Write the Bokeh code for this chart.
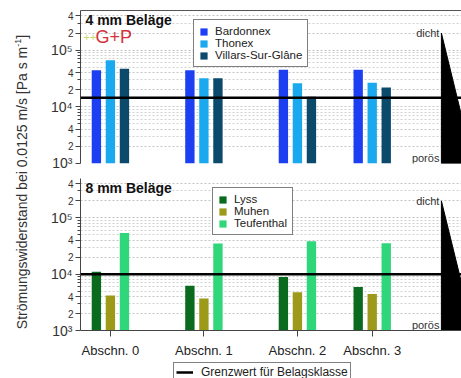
from bokeh.plotting import figure
from bokeh.models import (ColumnDataSource, FixedTicker, LinearAxis, LogAxis, Span, Label,
                          Legend, LegendItem, Div, Range1d)
from bokeh.layouts import row, column
from bokeh.transform import dodge
from bokeh.embed import file_html
from bokeh.resources import INLINE

# ---------------- data ----------------
sections = ["Abschn. 0", "Abschn. 1", "Abschn. 2", "Abschn. 3"]
section_pos = [0, 1, 2, 2.8]

names_4mm = ["Bardonnex", "Thonex", "Villars-Sur-Glâne"]
bardonnex = [4.4e4, 4.4e4, 4.5e4, 4.5e4]
thonex = [6.6e4, 3.2e4, 2.6e4, 2.65e4]
villars = [4.7e4, 3.2e4, 1.5e4, 2.2e4]

names_8mm = ["Lyss", "Muhen", "Teufenthal"]
lyss = [1.1e4, 6.2e3, 8.9e3, 5.9e3]
muhen = [4.2e3, 3.7e3, 4.8e3, 4.45e3]
teufenthal = [5.4e4, 3.5e4, 3.85e4, 3.55e4]

limit_4mm = 1.45e4
limit_8mm = 1.0e4
limit_label = "Grenzwert für Belagsklasse"

titles = ["4 mm Beläge", "8 mm Beläge"]
y_label = 'Strömungswiderstand bei 0.0125 m/s [Pa s m<sup style="font-size:9px">-1</sup>]'

decade_ticks = [1e3, 1e4, 1e5]
decade_labels = ["10³", "10⁴", "10⁵"]
mid_ticks = [2e3, 4e3, 2e4, 4e4, 2e5, 4e5]
mid_labels = ["2", "4", "2", "4", "2", "4"]

colors_4mm = ["#1c3ff2", "#1aa8ee", "#0c4a6c"]
colors_8mm = ["#0a6a1e", "#9c9a18", "#2fd67a"]

# ---------------- layout constants ----------------
FONT = "Liberation Sans"
X_START, X_END = -0.32, 3.755
Y_START, Y_END = 1e3, 5e5
BAR_W = 0.1
OFFS = [-0.15, 0.0, 0.15]
WEDGE_X, WEDGE_X2, WEDGE_TOP = 3.54, 3.88, 2.0e5
TITLE_Y = 3.4e5
minor_ticks = [m * d for d in [1e3, 1e4, 1e5] for m in (3, 5, 6, 7, 8, 9) if m * d < Y_END]
AX = "#444444"


def make_panel(height, top, bottom, names, values, colors, limit, title,
               legend_loc, show_x):
    p = figure(width=425, height=height, y_axis_type="log",
               x_range=Range1d(X_START, X_END), y_range=Range1d(Y_START, Y_END),
               output_backend="svg", toolbar_location=None,
               min_border_left=44, min_border_right=0,
               min_border_top=top, min_border_bottom=bottom)
    p.outline_line_color = None
    p.background_fill_color = "white"
    p.border_fill_color = "white"
    p.xgrid.visible = False

    # inner axis: all ticks, small "2"/"4" labels
    ya = p.yaxis[0]
    ya.ticker = FixedTicker(ticks=decade_ticks + mid_ticks, minor_ticks=minor_ticks)
    ov = {v: "" for v in decade_ticks}
    ov.update({v: l for v, l in zip(mid_ticks, mid_labels)})
    ya.major_label_overrides = ov
    ya.major_label_text_font = FONT
    ya.major_label_text_font_size = "10px"
    ya.major_label_text_color = "#333333"
    ya.major_label_standoff = 2
    ya.major_tick_out = 5
    ya.major_tick_in = 0
    ya.minor_tick_out = 3
    ya.minor_tick_in = 0
    ya.axis_line_color = AX
    ya.major_tick_line_color = AX
    ya.minor_tick_line_color = AX

    # outer axis: decade labels only
    outer = LogAxis(ticker=FixedTicker(ticks=decade_ticks, minor_ticks=[]),
                    major_label_overrides={v: l for v, l in zip(decade_ticks, decade_labels)},
                    major_label_text_font=FONT, major_label_text_font_size="14px",
                    major_label_text_color="#333333", major_label_standoff=-8,
                    axis_line_color=None, major_tick_line_color=None,
                    minor_tick_line_color=None, major_tick_out=0, major_tick_in=0,
                    minor_tick_out=0, minor_tick_in=0)
    p.add_layout(outer, "left")

    p.ygrid.grid_line_color = "#c4c4c4"
    p.ygrid.grid_line_dash = "2 2"
    p.ygrid.minor_grid_line_color = "#d0d0d0"
    p.ygrid.minor_grid_line_dash = "2 2"

    src = ColumnDataSource(dict(pos=section_pos, s0=values[0], s1=values[1], s2=values[2]))
    items = []
    for i, (nm, col) in enumerate(zip(names, colors)):
        r = p.vbar(x=dodge("pos", OFFS[i], range=p.x_range), top="s%d" % i,
                   bottom=Y_START, width=BAR_W, source=src,
                   fill_color=col, line_color=None)
        items.append(LegendItem(label=nm, renderers=[r]))

    # density wedge
    p.patch(x=[WEDGE_X, WEDGE_X, WEDGE_X2], y=[WEDGE_TOP, Y_START, Y_START],
            fill_color="black", line_color="black")
    p.add_layout(Label(x=WEDGE_X, y=WEDGE_TOP, x_offset=-2, text="dicht",
                       text_align="right", text_baseline="middle", text_font=FONT,
                       text_font_size="11px", text_color="#333333"))
    p.add_layout(Label(x=WEDGE_X, y=Y_START, x_offset=-2, text="porös",
                       text_align="right", text_baseline="bottom", text_font=FONT,
                       text_font_size="11px", text_color="#333333"))

    p.add_layout(Span(location=limit, dimension="width", line_color="black",
                      line_width=2.5))

    p.add_layout(Label(x=X_START, y=TITLE_Y, x_offset=5, text=title,
                       text_align="left", text_baseline="middle", text_font=FONT,
                       text_font_size="14px", text_font_style="bold",
                       text_color="#111111"))

    leg = Legend(items=items, location=legend_loc, border_line_color="black",
                 border_line_width=1, background_fill_color="white",
                 background_fill_alpha=1.0, label_text_font=FONT,
                 label_text_font_size="11.5px", label_text_color="#222222",
                 glyph_width=9, glyph_height=9, label_height=11, spacing=0,
                 padding=5, label_standoff=7, margin=0)
    p.add_layout(leg, "center")

    if show_x:
        xa = p.xaxis[0]
        xa.ticker = FixedTicker(ticks=section_pos)
        xa.major_label_overrides = {float(v): s for v, s in zip(section_pos, sections)}
        xa.major_label_text_font = FONT
        xa.major_label_text_font_size = "13px"
        xa.major_label_text_color = "#222222"
        xa.major_label_standoff = 6
        xa.major_tick_out = 6
        xa.major_tick_in = 0
        xa.minor_tick_line_color = None
        xa.axis_line_color = AX
        xa.major_tick_line_color = AX
    else:
        p.xaxis.visible = False
        top_ax = LinearAxis(ticker=FixedTicker(ticks=[]), axis_line_color="#555555",
                            major_label_text_font_size="0px",
                            major_tick_line_color=None, minor_tick_line_color=None)
        p.add_layout(top_ax, "above")
    return p


p1 = make_panel(170, 10, 7, names_4mm, [bardonnex, thonex, villars], colors_4mm,
                limit_4mm, titles[0], (113, 96), False)
# logo
p1.add_layout(Label(x=X_START, y=1.7e5, x_offset=3, text="++", text_align="left",
                    text_baseline="middle", text_font=FONT, text_font_size="11px",
                    text_color="#c9d86a"))
p1.add_layout(Label(x=X_START, y=1.7e5, x_offset=15, text="G+P", text_align="left",
                    text_baseline="middle", text_font=FONT, text_font_size="18px",
                    text_color="#d2323c"))

p2 = make_panel(192, 8, 32, names_8mm, [lyss, muhen, teufenthal], colors_8mm,
                limit_8mm, titles[1], (132, 95), True)

# strip holding the legend of the limit line
p3 = figure(width=425, height=16, x_range=Range1d(0, 1), y_range=Range1d(0, 1),
            output_backend="svg", toolbar_location=None,
            min_border_left=44, min_border_right=0, min_border_top=0, min_border_bottom=0)
p3.axis.visible = False
p3.grid.visible = False
p3.outline_line_color = None
# legend-only renderer (kept outside the visible range)
lim_r = p3.line(x=[2, 3], y=[2, 2], line_color="black", line_width=2.5)
lim_leg = Legend(items=[LegendItem(label=limit_label, renderers=[lim_r])],
                 location=(93, -4), border_line_color="black", border_line_width=1,
                 background_fill_color="white", background_fill_alpha=1.0,
                 label_text_font=FONT, label_text_font_size="12px",
                 label_text_color="#222222", glyph_width=17, glyph_height=10,
                 label_height=12, padding=2, label_standoff=8, margin=0)
p3.add_layout(lim_leg, "center")

div = Div(text=('<div style="position:relative;width:36px;height:378px;">'
                '<div style="position:absolute;left:22px;top:182px;'
                'transform:translate(-50%,-50%) rotate(-90deg);white-space:nowrap;'
                "font-family:'Liberation Sans',Arial,sans-serif;font-size:14px;color:#333;\">"
                + y_label + '</div></div>'),
          width=36, height=378, margin=0)

layout = row(div, column(p1, p2, p3))
open("out.html", "w").write(file_html(layout, INLINE))
